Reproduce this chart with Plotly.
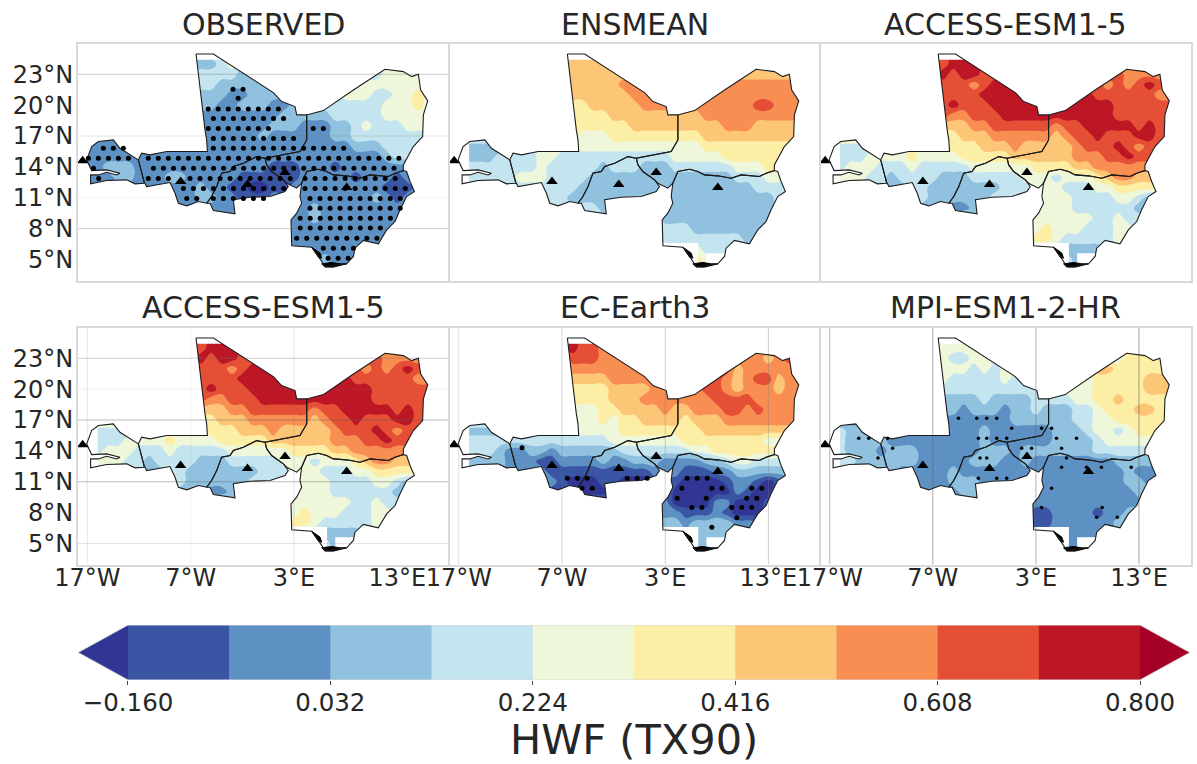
import numpy as np
import plotly.graph_objects as go

# ---------- data ----------
LONS = list(range(-17, 17))
LATS = list(range(25, 3, -1))
LEVELS = [-0.16, -0.064, 0.032, 0.128, 0.224, 0.32, 0.416, 0.512, 0.608, 0.704, 0.8]
TICKS = [-0.16, 0.032, 0.224, 0.416, 0.608, 0.8]
TICKTEXT = ["\u22120.160", "0.032", "0.224", "0.416", "0.608", "0.800"]
COLORS = ["#313695", "#3b55a5", "#5d91c3", "#90c2df", "#c4e4ef", "#eef7da",
          "#fdeea5", "#fdc576", "#f98e52", "#e54f35", "#bd1726", "#a50026"]
BAND_CODES = "0123456789ab"

# one code per degree of longitude (17W..16E), one row per degree of latitude (25N..4N)
OBSERVED = [
 "33333333333 34453333334444444455555",
 "33333333333 33453333334444444455555",
 "44444444444 44443333334444444455555",
 "44444444444 44333333333344455555555",
 "33333333333 33322333333444555445565",
 "33333333333 33223332233444444455565",
 "22222222222 22222222333334444455555",
 "22222222222 22222223332223345444555",
 "22222222222 22222232222223344444444",
 "22222222222 22222222222222233344444",
 "22222222222 22222222222222222234444",
 "22333222222 22222221112221222222222",
 "22233222332 22221111112222212221222",
 "22222222222 32211001122222222211122",
 "22222222222 33221112222222222321222",
 "22222222222 22222222222322222222222",
 "22222222222 22222222222322222222222",
 "22222222222 22222222222222222222222",
 "22222222222 22222222222222222222222",
 "22222222222 22222222222222222222222",
 "22222222222 22222222222232222222222",
 "22222222222 22222222222222222222222",
]
ENSMEAN = [
 "77777777777 77777777777777777777777",
 "77777777777 77777777777777777777777",
 "77777777777 77777777777777777777777",
 "77777777777 77777888888888888888888",
 "77777777777 77777788888888888888888",
 "66666666666 66777778888888888899888",
 "66666666666 66667777777778888888888",
 "66666666666 66666677777777788877777",
 "55555555555 65556666666667777777777",
 "33333444555 55555555555556666666666",
 "33334444554 44444444445555566666666",
 "44444444544 44434443334444445556666",
 "44444455544 44333333333333334445555",
 "44444444444 43333333333333333344444",
 "44444444444 33333333333333333333444",
 "44444444444 44433333333333333333444",
 "44444444444 44444444433333333333444",
 "44444444444 44444444444433333333444",
 "44444444444 44444444444444444334444",
 "44444444444 44444444444454444444444",
 "44444444444 44444444444465444444444",
 "44444444444 44444444444465444444444",
]
ACCESS_A = [
 "99999999999 9aaa9888888888888888888",
 "99999999999 9aaa9888888888888888888",
 "99999999999 a9aa9999999999999988888",
 "99999999999 99989aaa999999998989a99",
 "99999999999 9999aaaaaaaaaaa99999988",
 "99999999999 9a999aaaaaaaaaaaa999999",
 "99999999999 988999aaaaaaaaaaa999999",
 "77777777777 77788999999899aaaaa9a99",
 "66666666666 667778888887899a999aa99",
 "44444444555 66667778777778999a98999",
 "44445555655 556666677777788899a9999",
 "44555444544 44455555566667788888888",
 "55554434444 33344444555455567887777",
 "44444433443 33333344455544455666666",
 "44444444443 33333444455554444554333",
 "44444444433 32233444455554444443333",
 "44444444444 44444444455555544544444",
 "44444444444 44444444456555444554444",
 "44444444444 44444444466544444555555",
 "44444444444 44444444444433334444444",
 "44444444444 44444444444443444444444",
 "44444444444 44444444444443444444444",
]
ACCESS_B = list(ACCESS_A)
EC_EARTH = [
 "99999999999 a9988888888888888888888",
 "99999999999 a9988888888888888888888",
 "88888888888 99988888888888888887899",
 "88888888888 88888888888888997888888",
 "77777777777 7777888888888a987899788",
 "66666666666 66667777888889987888788",
 "66666666666 66667778888888999988888",
 "55555555555 55566777787788899898888",
 "55555555555 55565667777677788888888",
 "33333444444 55555666666667777777777",
 "44444444444 44445555555666666665555",
 "44443223323 33333444444455666666666",
 "33333222112 22232233322223345544444",
 "33333222211 11111111222111223333333",
 "33333222221 00011000111000012210122",
 "33333222211 10001222220000002100222",
 "33333333333 22222222220000220001222",
 "33333333333 22222222222111210001222",
 "33333333333 33333333333233332223333",
 "33333333333 33333333333333333333333",
 "33333333333 33333333333333333333333",
 "33333333333 33333333333333333333333",
]
MPI = [
 "55555555555 55555555555555555555555",
 "55555555555 55555555555555555555555",
 "55555555555 54455555555555555566666",
 "55555555555 55545455555555577666666",
 "55555555555 54444454555555566666777",
 "44444444444 44444444444455566666777",
 "33333333333 33334333344445566766666",
 "33333333333 33233323343334456667766",
 "22222222222 22222223333334455666666",
 "44333322222 22223222222333455456666",
 "44333322222 22223222222333345555555",
 "44333233322 22223332333333344444444",
 "44433333322 22233322322222222333333",
 "33333332222 23222222222222222232222",
 "33333332222 23332222222222222233222",
 "22222222222 22332222222222222223333",
 "22222222222 22222222222222222222222",
 "22222222222 22222222211222212233333",
 "22222222222 22222222211222222333333",
 "22222222222 22222222222222222222222",
 "22222222222 22222222222222222222222",
 "22222222222 22222222222222222222222",
]
PANEL_TITLES = ["OBSERVED", "ENSMEAN", "ACCESS-ESM1-5", "ACCESS-ESM1-5", "EC-Earth3", "MPI-ESM1-2-HR"]
PANEL_DATA = [OBSERVED, ENSMEAN, ACCESS_A, ACCESS_B, EC_EARTH, MPI]

# significance stippling of the observed panel: latitude, longitude spans
OBS_SIG_ROWS = [
 (21.54, [(-2.9, -1.9)]), (20.67, [(-2.4, -2.4)]),
 (19.63, [(-5.3, 2.0)]), (18.69, [(-4.8, 2.0)]),
 (17.72, [(-5.3, 1.0), (4.87, 6.8)]), (16.75, [(-4.8, 3.9)]),
 (15.81, [(-15.45, -13.5), (-4.8, 8.75)]),
 (14.84, [(-16.9, -13.0), (-11.1, 13.3)]),
 (13.87, [(-16.4, -16.4), (-10.6, 12.8)]),
 (12.87, [(-15.9, -15.9), (-11.1, -9.0), (-7.06, 3.26), (4.07, 13.6)]),
 (11.9, [(-7.7, 2.9), (4.07, 14.2)]),
 (10.93, [(-7.38, -5.8), (-4.8, 1.0), (4.55, 13.9)]),
 (9.99, [(4.55, 13.3)]), (9.02, [(3.6, 12.9)]), (8.05, [(3.6, 12.0)]),
 (7.07, [(3.26, 11.5)]), (6.1, [(5.84, 9.07)]), (5.13, [(6.3, 8.75)]),
]
EC_SIG_LON = [-6.48, -5.51, -4.55, -5.06, -4.06, -0.68, 0.29, 1.26, 5.13, 6.1, 7.07, 4.62, 7.52, 8.49,
              4.16, 6.97, 5.58, 6.55, 9.45, 10.42, 11.39, 9.94, 10.9, 11.87, 11.39, 12.36, 7.52, -10.87]
EC_SIG_LAT = [11.35, 11.35, 11.35, 10.37, 10.37, 11.35, 11.35, 11.35, 11.35, 11.35, 11.35, 10.37, 10.37, 10.37,
              9.4, 9.4, 8.5, 8.5, 8.5, 8.5, 8.5, 7.5, 9.4, 9.4, 10.37, 10.37, 6.57, 14.3]
MPI_SIG_LON = [-14.19, -13.22, -12.32, -11.38, -10.9, -4.51, -2.74, -1.77, -0.8, 0.65, 2.58, 1.62, 3.55, 4.52, 5.0,
               5.49, 6.94, -1.77, -0.8, -2.58, 0.17, -2.42, -1.77, -2.58, -0.8, 0.17, 4.52, 3.55, 9.43, 8.9, 5.49,
               12.25, 9.36, 5.97, 7.9, 10.9]
MPI_SIG_LAT = [15.23, 15.23, 13.3, 15.23, 14.26, 17.17, 17.17, 17.17, 17.17, 16.2, 14.26, 14.26, 16.2, 16.2, 15.23,
               14.26, 15.23, 15.23, 15.23, 15.23, 15.23, 13.3, 13.3, 11.35, 11.35, 11.35, 10.37, 8.5, 8.5, 7.55, 12.4,
               12.4, 12.4, 13.3, 12.4, 7.55]

STATION_LON = [-17.45, -7.97, -1.5, 2.13, 8.1]
STATION_LAT = [14.6, 12.57, 12.3, 13.45, 12.0]

MALI = [(-6.48, 24.97), (-4.8, 24.97), (1.0, 21.22), (1.81, 20.34), (3.1, 19.86), (3.26, 19.05), (4.23, 19.05),
        (4.23, 16.62), (3.58, 15.49), (1.0, 15.0), (0.2, 14.84), (-0.61, 15.0), (-1.9, 14.36), (-2.87, 14.03),
        (-3.19, 13.55), (-4.0, 13.39), (-4.48, 12.09), (-4.97, 11.12), (-5.45, 10.47), (-6.26, 10.63),
        (-7.38, 10.21), (-8.19, 10.47), (-8.51, 11.44), (-9.0, 12.48), (-11.26, 12.09), (-11.51, 12.58),
        (-12.06, 14.68), (-11.74, 15.33), (-10.93, 15.17), (-9.32, 15.49), (-5.38, 15.49), (-5.45, 16.62),
        (-5.61, 17.59), (-6.48, 24.97)]
NIGER = [(4.23, 19.05), (5.84, 19.47), (8.75, 21.47), (11.81, 23.48), (13.58, 23.26), (14.39, 22.77), (15.03, 23.0),
         (15.26, 21.47), (15.94, 20.41), (15.52, 19.05), (15.45, 16.95), (14.55, 15.97), (13.58, 14.19), (13.58, 13.64),
         (12.78, 13.39), (12.13, 13.06), (10.36, 13.22), (9.39, 12.9), (8.1, 13.13), (6.81, 13.22), (6.16, 13.55),
         (5.36, 13.77), (4.23, 13.55), (3.74, 12.41), (3.26, 11.93), (2.29, 12.41), (1.97, 12.74), (0.84, 13.55),
         (0.36, 14.19), (0.2, 14.84), (1.0, 15.0), (3.58, 15.49), (4.23, 16.62), (4.23, 19.05)]
BURKINA = [(0.2, 14.84), (0.36, 14.19), (0.84, 13.55), (1.97, 12.74), (2.45, 12.09), (2.13, 11.6), (0.68, 11.12),
           (-1.28, 11.05), (-2.87, 10.8), (-2.71, 9.44), (-4.8, 9.76), (-5.13, 10.47), (-5.45, 10.47), (-4.97, 11.12),
           (-4.48, 12.09), (-4.0, 13.39), (-3.19, 13.55), (-2.87, 14.03), (-1.9, 14.36), (-0.61, 15.0), (0.2, 14.84)]
NIGERIA = [(4.23, 13.55), (3.74, 12.41), (3.58, 11.12), (3.74, 10.47), (3.26, 9.5), (2.71, 8.85), (2.78, 6.33),
           (4.71, 6.2), (5.36, 5.3), (6.0, 4.32), (8.1, 4.58), (8.75, 5.3), (8.9, 6.1), (9.71, 6.85), (11.16, 6.52),
           (11.97, 7.88), (12.78, 8.69), (13.26, 9.83), (13.9, 11.12), (14.65, 11.6), (14.23, 12.58), (13.9, 13.55),
           (13.58, 13.64), (12.78, 13.39), (12.13, 13.06), (10.36, 13.22), (9.39, 12.9), (8.1, 13.13), (6.81, 13.22),
           (6.16, 13.55), (5.36, 13.77), (4.23, 13.55)]
SENEGAL = [(-12.06, 14.68), (-13.84, 15.81), (-14.48, 16.62), (-15.93, 16.46), (-16.58, 15.97), (-17.06, 14.68),
           (-16.58, 13.64), (-15.13, 13.71), (-13.84, 13.39), (-14.16, 13.22), (-15.13, 13.48), (-15.93, 13.22),
           (-16.68, 13.22), (-16.68, 12.35), (-15.13, 12.67), (-13.19, 12.74), (-12.38, 12.35), (-11.51, 12.41),
           (-11.51, 12.58), (-12.06, 14.68)]
COUNTRIES = [MALI, NIGER, BURKINA, NIGERIA, SENEGAL]
COAST_A = [(4.71, 6.2), (5.03, 5.94), (5.52, 5.62), (5.68, 5.13), (5.36, 5.23)]
COAST_B = [(5.68, 4.58), (6.65, 4.71), (7.45, 4.58), (8.1, 4.58), (6.81, 4.26), (6.0, 4.26)]
NODATA_ALL = [[(-8, 24.4), (-3, 24.4), (-3, 26), (-8, 26)]]
NODATA_MODELS = [[(-18, 11), (-16.0, 11), (-16.0, 17), (-18, 17)],
                 [(2.5, 3), (6.2, 3), (6.2, 6.6), (2.5, 6.6)],
                 [(7.0, 3), (9.2, 3), (9.2, 5.6), (7.0, 5.6)]]

XTICKS = [-17, -7, 3, 13]
XTICKTEXT = ["17\u00b0W", "7\u00b0W", "3\u00b0E", "13\u00b0E"]
YTICKS = [5, 8, 11, 14, 17, 20, 23]
YTICKTEXT = ["5\u00b0N", "8\u00b0N", "11\u00b0N", "14\u00b0N", "17\u00b0N", "20\u00b0N", "23\u00b0N"]
GRID_H = [
 [(23, "rgba(120,120,120,.38)"), (17, "rgba(120,120,120,.22)"), (11, "rgba(120,120,120,.07)"), (8, "rgba(120,120,120,.35)")],
 [], [],
 [(23, "rgba(120,120,120,.35)"), (20, "rgba(120,120,120,.13)"), (17, "rgba(90,90,90,.42)"), (11, "rgba(90,90,90,.42)"), (5, "rgba(120,120,120,.2)")],
 [], [],
]
GRID_V = [
 [], [], [],
 [(-17, "rgba(120,120,120,.18)"), (-7, "rgba(120,120,120,.1)"), (3, "rgba(120,120,120,.22)")],
 [(-17, "rgba(120,120,120,.25)"), (-7, "rgba(120,120,120,.3)"), (3, "rgba(120,120,120,.35)"), (13, "rgba(120,120,120,.35)")],
 [(-17, "rgba(90,90,90,.45)"), (-7, "rgba(90,90,90,.5)"), (3, "rgba(90,90,90,.45)"), (13, "rgba(90,90,90,.55)")],
]

# ---------- layout constants ----------
W, H = 1197, 764
FONT = "DejaVu Sans"
INK = "#262626"
EDGE = "#d9d9d9"
XR = [-17.9, 18.0]
YR = [2.96, 25.94]
BOXES = [(78, 449, 44, 280.5), (449.5, 820, 44, 280.5), (820.5, 1190.5, 44, 280.5),
         (78, 449, 328, 564.5), (449.5, 820, 328, 564.5), (820.5, 1190.5, 328, 564.5)]


def decode(rows):
    out = []
    for r in rows:
        r = r.replace(" ", "")
        r = r.ljust(len(LONS), r[-1])[:len(LONS)]
        out.append([-0.16 + 0.096 * (BAND_CODES.index(c) - 0.5) for c in r])
    return out


def oriented(poly, ccw):
    p = poly[:-1] if poly[0] == poly[-1] else poly
    area = sum(p[i][0] * p[(i + 1) % len(p)][1] - p[(i + 1) % len(p)][0] * p[i][1] for i in range(len(p)))
    if (area > 0) != ccw:
        p = p[::-1]
    return p + [p[0]]


def xy(polys):
    xs, ys = [], []
    for poly in polys:
        for a, b in poly:
            xs.append(a)
            ys.append(b)
        xs.append(None)
        ys.append(None)
    return xs, ys


fig = go.Figure()
colorscale = [[k / 11, COLORS[k]] for k in range(12)]
axes = {}

for i, (rows, box) in enumerate(zip(PANEL_DATA, BOXES)):
    n = i + 1
    xa, ya = f"x{n}", f"y{n}"
    fig.add_trace(go.Contour(
        x=LONS, y=LATS, z=decode(rows), colorscale=colorscale, showscale=False, autocontour=False,
        contours=dict(start=LEVELS[0], end=LEVELS[-1], size=0.096, coloring="fill", showlines=False),
        line=dict(width=0, smoothing=1.3), hoverinfo="skip", xaxis=xa, yaxis=ya))
    # mask everything outside the countries
    outer = oriented([(-30, -10), (40, -10), (40, 50), (-30, 50)], True)
    holes = [oriented(c, False) for c in COUNTRIES]
    mx, my = xy([outer] + holes)
    fig.add_trace(go.Scatter(x=mx, y=my, mode="lines", fill="toself", fillcolor="white",
                             line=dict(width=0), hoverinfo="skip", xaxis=xa, yaxis=ya))
    patches = NODATA_ALL + ([] if i == 0 else NODATA_MODELS)
    px, py = xy([p + [p[0]] for p in patches])
    fig.add_trace(go.Scatter(x=px, y=py, mode="lines", fill="toself", fillcolor="white",
                             line=dict(width=0), hoverinfo="skip", xaxis=xa, yaxis=ya))
    # gridlines
    for lat, col in GRID_H[i]:
        fig.add_trace(go.Scatter(x=XR, y=[lat, lat], mode="lines", line=dict(color=col, width=1),
                                 hoverinfo="skip", xaxis=xa, yaxis=ya))
    for lon, col in GRID_V[i]:
        fig.add_trace(go.Scatter(x=[lon, lon], y=YR, mode="lines", line=dict(color=col, width=1),
                                 hoverinfo="skip", xaxis=xa, yaxis=ya))
    # coast and borders
    bx, by = xy([c + [c[0]] for c in (COAST_A, COAST_B)])
    fig.add_trace(go.Scatter(x=bx, y=by, mode="lines", fill="toself", fillcolor="black",
                             line=dict(color="black", width=1), hoverinfo="skip", xaxis=xa, yaxis=ya))
    cx, cy = xy(COUNTRIES)
    fig.add_trace(go.Scatter(x=cx, y=cy, mode="lines", line=dict(color="#1c1c1c", width=1.1),
                             hoverinfo="skip", xaxis=xa, yaxis=ya))
    # stippling
    sx, sy = [], []
    if i == 0:
        for lat, spans in OBS_SIG_ROWS:
            for a, b in spans:
                for lon in np.arange(a, b + 0.01, 0.97):
                    sx.append(float(lon))
                    sy.append(lat)
    elif i == 4:
        sx, sy = EC_SIG_LON, EC_SIG_LAT
    elif i == 5:
        sx, sy = MPI_SIG_LON, MPI_SIG_LAT
    if sx:
        fig.add_trace(go.Scatter(x=sx, y=sy, mode="markers", marker=dict(color="black", size=5 if i != 5 else 3.5, line=dict(width=0)),
                                 hoverinfo="skip", xaxis=xa, yaxis=ya))
    fig.add_trace(go.Scatter(x=STATION_LON, y=STATION_LAT, mode="markers",
                             marker=dict(symbol="triangle-up", color="black", size=10, line=dict(width=0)),
                             hoverinfo="skip", cliponaxis=False, xaxis=xa, yaxis=ya))
    suffix = "" if n == 1 else str(n)
    axes["xaxis" + suffix] = dict(
        domain=[box[0] / W, box[1] / W], range=XR, anchor=ya, showgrid=False, zeroline=False, automargin=False,
        showline=True, mirror=True, linecolor=EDGE, linewidth=2,
        tickmode="array", tickvals=XTICKS, ticktext=XTICKTEXT if i >= 3 else [""] * 4,
        ticks="", ticklabelstandoff=-9, tickfont=dict(family=FONT, size=24, color=INK))
    axes["yaxis" + suffix] = dict(
        domain=[1 - box[3] / H, 1 - box[2] / H], range=YR, anchor=xa, showgrid=False, zeroline=False, automargin=False,
        showline=True, mirror=True, linecolor=EDGE, linewidth=2,
        tickmode="array", tickvals=YTICKS, ticktext=YTICKTEXT if i in (0, 3) else [""] * 7,
        ticks="", ticklabelstandoff=-2, tickfont=dict(family=FONT, size=24, color=INK))

# ---------- colour bar drawn on its own axis ----------
CB_X = [-0.2074, 0.8474]
for k in range(10):
    fig.add_trace(go.Bar(y=[0], x=[0.0965], base=[LEVELS[k]], orientation="h", width=1,
                         marker=dict(color=COLORS[k + 1], line=dict(width=0)), hoverinfo="skip",
                         xaxis="x7", yaxis="y7"))
fig.add_trace(go.Scatter(x=[-0.16, CB_X[0], -0.16, -0.16], y=[0.5, 0, -0.5, 0.5], mode="lines", fill="toself",
                         fillcolor=COLORS[0], line=dict(width=0), hoverinfo="skip", xaxis="x7", yaxis="y7"))
fig.add_trace(go.Scatter(x=[0.8, CB_X[1], 0.8, 0.8], y=[0.5, 0, -0.5, 0.5], mode="lines", fill="toself",
                         fillcolor=COLORS[11], line=dict(width=0), hoverinfo="skip", xaxis="x7", yaxis="y7"))
fig.add_trace(go.Scatter(x=[-0.16, 0.8, CB_X[1], 0.8, -0.16, CB_X[0], -0.16], y=[0.5, 0.5, 0, -0.5, -0.5, 0, 0.5], mode="lines",
                         line=dict(color=EDGE, width=1), hoverinfo="skip", cliponaxis=False, xaxis="x7", yaxis="y7"))
axes["xaxis7"] = dict(domain=[78 / W, 1190 / W], range=CB_X, anchor="y7", showgrid=False, zeroline=False, showline=False,
                      automargin=False, tickmode="array", tickvals=TICKS, ticktext=TICKTEXT, ticks="outside", ticklen=4,
                      tickwidth=1, tickcolor="#444444", ticklabelstandoff=-3, tickfont=dict(family=FONT, size=24.5, color=INK))
axes["yaxis7"] = dict(domain=[1 - 680 / H, 1 - 625 / H], range=[-0.5, 0.5], anchor="x7", visible=False, automargin=False)

annotations = [dict(text=t, x=(b[0] + b[1]) / 2 / W, y=1 - (b[2] - 20) / H, xref="paper", yref="paper",
                    xanchor="center", yanchor="middle", showarrow=False,
                    font=dict(family=FONT, size=30, color=INK))
               for t, b in zip(PANEL_TITLES, BOXES)]
annotations.append(dict(text="HWF (TX90)", x=634 / W, y=1 - 739 / H, xref="paper", yref="paper", xanchor="center",
                        yanchor="middle", showarrow=False, font=dict(family=FONT, size=41.5, color=INK)))

fig.update_layout(width=W, height=H, autosize=False, margin=dict(l=0, r=0, t=0, b=0), paper_bgcolor="white",
                  plot_bgcolor="white", showlegend=False, barmode="overlay", annotations=annotations, **axes)
fig.write_html("out.html", config={"displayModeBar": False},
               post_script="document.body.style.margin='0';document.body.style.overflow='hidden';")
